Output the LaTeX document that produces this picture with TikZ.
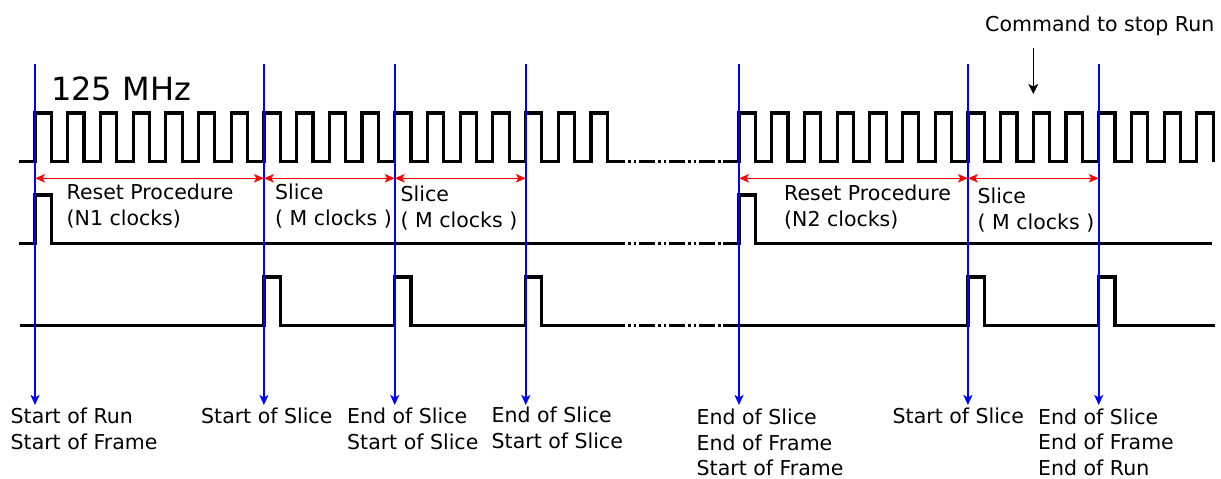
\documentclass[tikz,border=0pt]{standalone}
\usepackage{fontspec}
\setmainfont{DejaVu Sans}
\usetikzlibrary{arrows.meta}
\begin{document}
\begin{tikzpicture}[x=1pt,y=-1pt,
  wave/.style={line width=3.2pt,line join=miter,line cap=butt},
  gapwave/.style={wave,dash pattern=on 2.5pt off 3pt on 2.5pt off 3pt on 16pt off 3pt,dash phase=27pt},
  marker/.style={draw=blue,line width=1.8pt,-{Stealth[length=10pt,width=9pt,inset=2.5pt]}},
  span/.style={draw=red,line width=1.2pt,{Stealth[length=10pt,width=8.5pt,inset=2.5pt]}-{Stealth[length=10pt,width=8.5pt,inset=2.5pt]}},
  cmdarrow/.style={draw=black,line width=1.3pt,-{Stealth[length=10pt,width=10pt,inset=2.5pt]}},
  lbl/.style={anchor=base west,inner sep=0pt,font=\fontsize{20.5}{26}\selectfont},
  big/.style={anchor=base west,inner sep=0pt,font=\fontsize{32}{38}\selectfont}]
\useasboundingbox (0,0) rectangle (1221,479);
\def\P{32.7}
\def\H{16.35}
% ---- clock ----
\draw[wave] (19.3,161.5)
  foreach \k in {0,...,17} { -- ({35+\k*\P},161.5) -- ({35+\k*\P},113) -- ({35+\k*\P+\H},113) -- ({35+\k*\P+\H},161.5) }
  -- (625,161.5);
\draw[gapwave] (625,161.5) -- (723,161.5);
\draw[wave] (723,161.5)
  foreach \k in {0,...,14} { -- ({739+\k*\P},161.5) -- ({739+\k*\P},113) -- ({739+\k*\P+\H},113) -- ({739+\k*\P+\H},161.5) };
% ---- reset signal ----
\draw[wave] (19.3,243.3) -- (35,243.3) -- (35,195) -- (51.35,195) -- (51.35,243.3) -- (625,243.3);
\draw[gapwave] (625,243.3) -- (723,243.3);
\draw[wave] (723,243.3) -- (739,243.3) -- (739,195) -- (755.35,195) -- (755.35,243.3) -- (1212,243.3);
% ---- slice signal ----
\draw[wave] (20,325.5)
  foreach \s in {263.9,394.7,525.5} { -- (\s,325.5) -- (\s,277) -- ({\s+\H},277) -- ({\s+\H},325.5) }
  -- (625,325.5);
\draw[gapwave] (625,325.5) -- (723,325.5);
\draw[wave] (723,325.5)
  foreach \s in {967.9,1098.7} { -- (\s,325.5) -- (\s,277) -- ({\s+\H},277) -- ({\s+\H},325.5) }
  -- (1215,325.5);
% ---- marker lines ----
\foreach \n/\x in {1/35,2/263.9,3/394.7,4/525.8,5/739,6/967.9,7/1098.7}{
  \coordinate (t\n) at (\x,64);
  \coordinate (b\n) at (\x,405);
  \coordinate (r\n) at (\x,178.3);
}
\foreach \n in {1,...,7}{ \draw[marker] (t\n) -- (b\n); }
% ---- spans ----
\draw[span] (r1) -- (r2);
\draw[span] (r2) -- (r3);
\draw[span] (r3) -- (r4);
\draw[span] (r5) -- (r6);
\draw[span] (r6) -- (r7);
% ---- texts ----
\node[big] (freq) at (51,100.7) {125 MHz};
\node[lbl] (cmd) at (985,31.7) {Command to stop Run};
\coordinate (cmdtop) at (1033.3,48);
\coordinate (cmdtip) at (1033.3,94);
\draw[cmdarrow] (cmdtop) -- (cmdtip);

\node[lbl] (rp1a) at (66.5,199.3) {Reset Procedure};
\node[lbl] (rp1b) at (66.5,225.3) {(N1 clocks)};
\node[lbl] (sl1a) at (275,199.3) {Slice};
\node[lbl] (sl1b) at (275,225.3) {( M clocks )};
\node[lbl] (sl2a) at (400.5,201.7) {Slice};
\node[lbl] (sl2b) at (400.5,227.7) {( M clocks )};
\node[lbl] (rp2a) at (784,200.3) {Reset Procedure};
\node[lbl] (rp2b) at (784,226.3) {(N2 clocks)};
\node[lbl] (sl3a) at (977.5,203.3) {Slice};
\node[lbl] (sl3b) at (977.5,229.3) {( M clocks )};

\node[lbl] (e1a) at (10.5,423.5) {Start of Run};
\node[lbl] (e1b) at (10.5,449.5) {Start of Frame};
\node[lbl] (e2a) at (201,423.5) {Start of Slice};
\node[lbl] (e3a) at (347,423.5) {End of Slice};
\node[lbl] (e3b) at (347,449.5) {Start of Slice};
\node[lbl] (e4a) at (491.5,422.5) {End of Slice};
\node[lbl] (e4b) at (491.5,448.5) {Start of Slice};
\node[lbl] (e5a) at (696.5,424.5) {End of Slice};
\node[lbl] (e5b) at (696.5,450) {End of Frame};
\node[lbl] (e5c) at (696.5,475.5) {Start of Frame};
\node[lbl] (e6a) at (892.5,423.5) {Start of Slice};
\node[lbl] (e7a) at (1038,424) {End of Slice};
\node[lbl] (e7b) at (1038,449.5) {End of Frame};
\node[lbl] (e7c) at (1038,475) {End of Run};
\end{tikzpicture}
\end{document}
